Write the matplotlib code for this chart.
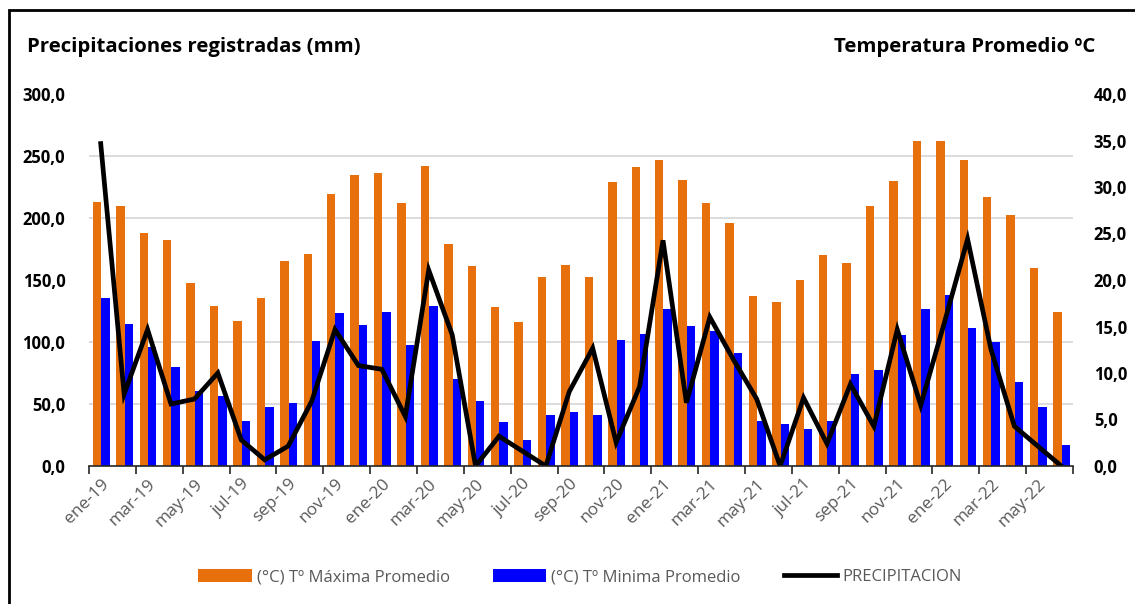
import numpy as np
import matplotlib
matplotlib.use('Agg')
from matplotlib import pyplot as plt
from matplotlib.patches import Rectangle
from matplotlib.ticker import FuncFormatter

plt.rcParams['font.family'] = ['Open Sans', 'DejaVu Sans']

# months ene-19 .. jun-22
MESES = ['ene', 'feb', 'mar', 'abr', 'may', 'jun', 'jul', 'ago', 'sep', 'oct', 'nov', 'dic']
labels = [f'{m}-{y}' for y in (19, 20, 21) for m in MESES] + [f'{m}-22' for m in MESES[:6]]

t_max = [28.4, 28.0, 25.1, 24.3, 19.7, 17.2, 15.6, 18.1, 22.0, 22.8, 29.2, 31.3,
         31.5, 28.3, 32.3, 23.9, 21.5, 17.1, 15.5, 20.3, 21.6, 20.3, 30.5, 32.1,
         32.9, 30.7, 28.3, 26.1, 18.3, 17.6, 20.0, 22.7, 21.8, 28.0, 30.6, 34.9,
         34.9, 32.9, 28.9, 27.0, 21.3, 16.6]
t_min = [18.1, 15.3, 12.8, 10.6, 8.1, 7.5, 4.8, 6.3, 6.8, 13.4, 16.4, 15.2,
         16.6, 13.0, 17.2, 9.4, 7.0, 4.7, 2.8, 5.5, 5.8, 5.5, 13.5, 14.2,
         16.9, 15.1, 14.5, 12.1, 4.8, 4.5, 4.0, 4.8, 9.9, 10.3, 14.1, 16.9,
         18.4, 14.8, 13.3, 9.05, 6.3, 2.3]
precip = [260, 58, 110, 50, 54, 75, 21, 5, 16, 52, 110, 81,
          78, 40, 158, 106, 0, 24, 12, 0, 60, 95, 19, 64,
          182, 51, 120, 86, 54, 0, 55, 18, 66, 32, 110, 49,
          115, 183, 94, 32, 16, 0]

P_MAX, T_MAX = 300, 40
p_ticks = np.arange(0, P_MAX + 1, 50)
t_ticks = np.arange(0, T_MAX + 1, 5)

ORANGE = '#E8700C'
BLUE = '#0000FF'
GRAY = '#595959'

fig = plt.figure(figsize=(11.35, 6.04), dpi=100)
ax = fig.add_axes([89 / 1135, 1 - 466 / 604, (1073 - 89) / 1135, (466 - 94) / 604])
ax2 = ax.twinx()

x = np.arange(len(labels))
w = 0.36
ax2.bar(x - w / 2 + 0.02, t_max, width=w, color=ORANGE, label='(°C) Tº Máxima Promedio')
ax2.bar(x + w / 2 + 0.02, t_min, width=w, color=BLUE, label='(°C) Tº Minima Promedio')
ax2.set_ylim(0, T_MAX)
ax2.set_yticks(t_ticks)
# gridlines follow the precipitation axis, drawn behind the bars
ax2.set_yticks(p_ticks * T_MAX / P_MAX, minor=True)
ax2.grid(which='minor', axis='y', color='#D9D9D9', lw=1.3)
ax2.set_axisbelow(True)
ax2.tick_params(which='minor', length=0)

ax.plot(x, precip, color='black', lw=3.4, label='PRECIPITACION', solid_joinstyle='miter')
ax.set_ylim(0, P_MAX)
ax.set_yticks(p_ticks)
ax.set_zorder(ax2.get_zorder() + 1)
ax.patch.set_visible(False)

fmt = FuncFormatter(lambda v, p: f'{v:.1f}'.replace('.', ','))
for a in (ax, ax2):
    a.yaxis.set_major_formatter(fmt)
    a.tick_params(axis='y', length=0, labelsize=12, pad=17)
    for s in a.spines.values():
        s.set_visible(False)
    for lab in a.get_yticklabels():
        lab.set_fontweight('bold')
ax2.tick_params(axis='y', pad=15)
ax.spines['bottom'].set_visible(True)
ax.spines['bottom'].set_color('#262626')
ax.spines['bottom'].set_linewidth(1.2)

ax.set_xlim(-0.5, len(labels) - 0.5)
ax.set_xticks(np.arange(-0.5, len(labels), 2))
ax.set_xticklabels([])
ax.set_xticks(x[::2], minor=True)
ax.set_xticklabels(labels[::2], minor=True, rotation=45, ha='right', va='top',
                   rotation_mode='anchor', color=GRAY, fontsize=12.5)
ax.tick_params(axis='x', which='major', length=6, width=1.2, color='#262626', direction='out')
ax.tick_params(axis='x', which='minor', length=0, pad=7)

fig.text(27 / 1135, 1 - 47 / 604, 'Precipitaciones registradas (mm)', fontsize=14.7,
         fontweight='bold', va='center', ha='left')
fig.text(1095 / 1135, 1 - 47 / 604, 'Temperatura Promedio ºC', fontsize=14.7,
         fontweight='bold', va='center', ha='right')

h1, l1 = ax2.get_legend_handles_labels()
h2, l2 = ax.get_legend_handles_labels()
leg = fig.legend(h1 + h2, l1 + l2, loc='center', bbox_to_anchor=(580 / 1135, 1 - 577 / 604),
                 ncol=3, frameon=False, fontsize=12, handlelength=3.2, handleheight=0.8,
                 columnspacing=2.6, handletextpad=0.3)
for t in leg.get_texts():
    t.set_color(GRAY)

fig.patches.append(Rectangle((9 / 1135, -0.1), 1.2, 1 - 10 / 604 + 0.1, transform=fig.transFigure,
                             fill=False, edgecolor='black', lw=2))

fig.savefig('out.png', dpi=100)
